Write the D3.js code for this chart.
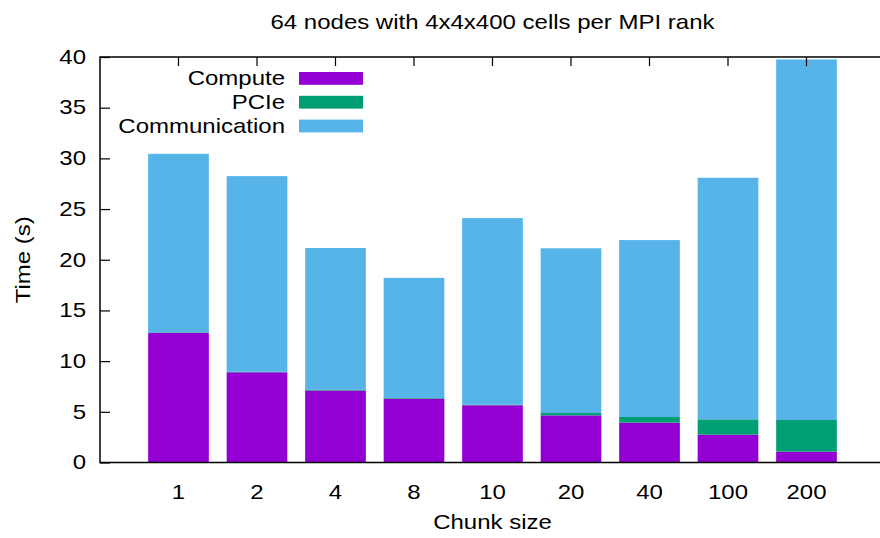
<!DOCTYPE html>
<html>
<head>
<meta charset="utf-8">
<script src="https://cdn.jsdelivr.net/npm/d3@7"></script>
<style>
  html, body { margin: 0; padding: 0; background: #fff; }
  svg { display: block; }
  text { font-family: "Liberation Sans", Arial, Helvetica, sans-serif; fill: #000; }
</style>
</head>
<body>
<svg id="chart" width="880" height="538"></svg>
<script>
// Chunk sizes on the x axis
const categories = ["1", "2", "4", "8", "10", "20", "40", "100", "200"];
// Time per component (s), stacked bottom to top
const compute       = [12.8, 8.9, 7.1, 6.3, 5.65, 4.65, 3.93, 2.74, 1.07];
const pcie          = [0.05, 0.05, 0.06, 0.06, 0.06, 0.23, 0.56, 1.52, 3.12];
const communication = [17.6, 19.3, 14.0, 11.85, 18.4, 16.25, 17.45, 23.83, 35.57];
const seriesNames   = ["Compute", "PCIe", "Communication"];
const seriesColors  = ["#9400d3", "#009e73", "#56b4e9"];
const yTicks        = [0, 5, 10, 15, 20, 25, 30, 35, 40];

const title  = "64 nodes with 4x4x400 cells per MPI rank";
const xTitle = "Chunk size";
const yTitle = "Time (s)";

const W = 880, H = 538;
const plot = { left: 100, right: 885, top: 57, bottom: 462.5 };
const FS = 20, SX = 1.2;   // font size and horizontal text stretch

const svg = d3.select("#chart");

const x = d3.scaleBand()
  .domain(categories)
  .range([plot.left, plot.right])
  .paddingInner(0.227)
  .paddingOuter(0.6135);

const y = d3.scaleLinear().domain([0, 40]).range([plot.bottom, plot.top]);

const rows = categories.map((c, i) => ({
  cat: c, Compute: compute[i], PCIe: pcie[i], Communication: communication[i]
}));
const stacked = d3.stack().keys(seriesNames)(rows);

// Stacked bars
const gBars = svg.append("g");
stacked.forEach((layer, k) => {
  gBars.append("g")
    .attr("fill", seriesColors[k])
    .selectAll("rect")
    .data(layer)
    .join("rect")
    .attr("x", d => x(d.data.cat))
    .attr("width", x.bandwidth())
    .attr("y", d => y(d[1]))
    .attr("height", d => y(d[0]) - y(d[1]));
});

// Text helper with a slight horizontal stretch
function label(px, py, str, anchor, rotate) {
  const g = svg.append("g")
    .attr("transform", `translate(${px},${py})` + (rotate ? ` rotate(${rotate})` : "") + ` scale(${SX},1)`);
  g.append("text")
    .attr("text-anchor", anchor || "middle")
    .attr("dominant-baseline", "central")
    .attr("font-size", FS)
    .text(str);
}

// Frame
svg.append("rect")
  .attr("x", plot.left).attr("y", plot.top)
  .attr("width", plot.right - plot.left).attr("height", plot.bottom - plot.top)
  .attr("fill", "none").attr("stroke", "#000").attr("stroke-width", 1.5);

// Left axis ticks (inward) and labels
const yAxis = d3.axisLeft(y).tickValues(yTicks).tickSize(-10).tickFormat("");
svg.append("g").attr("transform", `translate(${plot.left},0)`).call(yAxis)
  .call(g => g.select(".domain").remove())
  .call(g => g.selectAll("line").attr("stroke", "#000").attr("stroke-width", 1.2));
yTicks.forEach(v => label(plot.left - 14, y(v), String(v), "end"));

// Top mirror ticks at category centres
const xTop = d3.axisTop(x).tickSize(-9).tickFormat("");
svg.append("g").attr("transform", `translate(0,${plot.top})`).call(xTop)
  .call(g => g.select(".domain").remove())
  .call(g => g.selectAll("line").attr("stroke", "#000").attr("stroke-width", 1.2));

// Bottom tick labels
categories.forEach(c => label(x(c) + x.bandwidth() / 2, 492, c, "middle"));

// Titles
label((plot.left + plot.right) / 2, 22, title, "middle");
label((plot.left + plot.right) / 2, 522, xTitle, "middle");
label(23, (plot.top + plot.bottom) / 2, yTitle, "middle", -90);

// Legend
const legendY = [78.4, 102.2, 126];
seriesNames.forEach((name, k) => {
  svg.append("rect")
    .attr("x", 299).attr("y", legendY[k] - 6.4)
    .attr("width", 64).attr("height", 12.8)
    .attr("fill", seriesColors[k]);
  label(285, legendY[k], name, "end");
});
</script>
</body>
</html>
